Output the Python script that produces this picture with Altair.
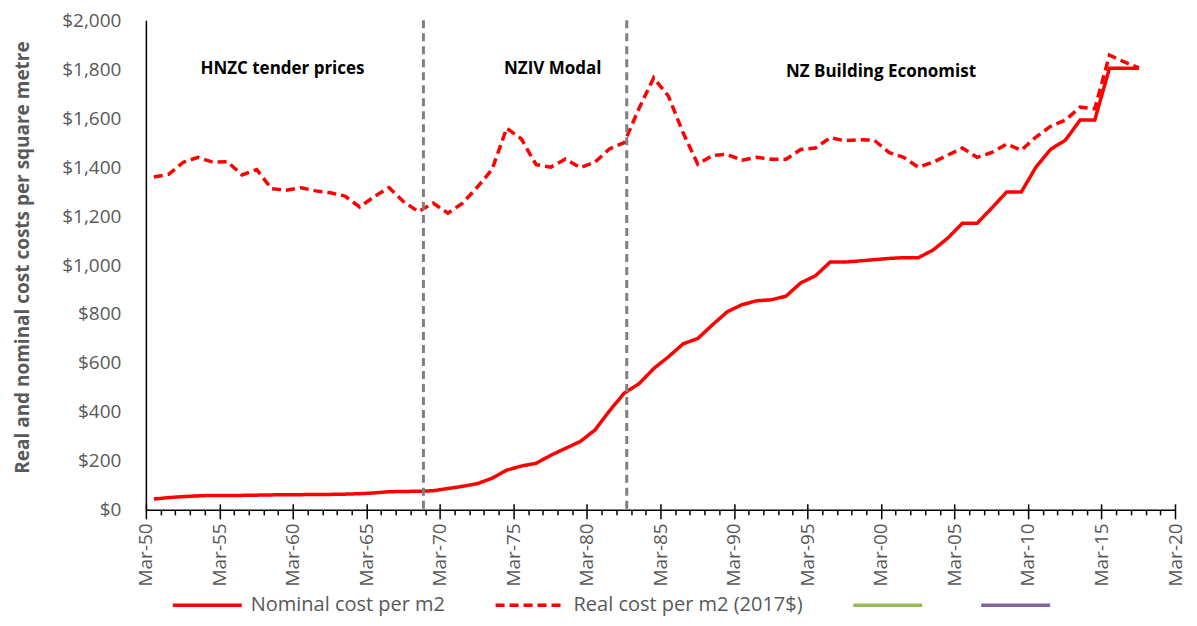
import altair as alt
import pandas as pd

# ---------------- data ----------------
years = list(range(1950, 2018))
nominal = [44, 50, 54, 57, 59, 59, 59, 60, 61, 62,
           62, 63, 63, 64, 66, 69, 74, 75, 76, 78,
           87, 96, 107, 129, 162, 179, 190, 223, 251, 279,
           326, 405, 477, 515, 577, 625, 678, 700, 756, 809,
           838, 854, 858, 873, 927, 956, 1012, 1012, 1017, 1022,
           1027, 1030, 1030, 1061, 1110, 1171, 1171, 1233, 1298, 1298,
           1400, 1473, 1510, 1592, 1592, 1804, 1804, 1804]
real = [1360, 1370, 1420, 1440, 1420, 1422, 1368, 1390, 1312, 1306,
        1316, 1303, 1295, 1282, 1237, 1280, 1316, 1258, 1218, 1253,
        1212, 1253, 1318, 1390, 1559, 1515, 1410, 1400, 1433, 1398,
        1420, 1475, 1500, 1640, 1765, 1690, 1540, 1412, 1448, 1452,
        1428, 1440, 1432, 1432, 1472, 1478, 1520, 1508, 1512, 1510,
        1460, 1440, 1400, 1420, 1449, 1478, 1440, 1460, 1494, 1469,
        1523, 1567, 1592, 1645, 1638, 1857, 1830, 1805]

series_names = ["Nominal cost per m2", "Real cost per m2 (2017$)", "series3", "series4"]
series_colors = ["#FF0000", "#FF0000", "#9BBB59", "#8064A2"]
series_dashes = [[1, 0], [9, 5], [1, 0], [1, 0]]

divider_dates = ["1969/01/15", "1982/11/15"]
section_labels = ["HNZC tender prices", "NZIV Modal", "NZ Building Economist"]
section_dates = ["1959/06/15", "1977/11/01", "2000/03/01"]
section_values = [1800, 1800, 1790]

y_ticks = list(range(0, 2001, 200))
x_tick_years = list(range(1950, 2021))

# ---------------- tables ----------------
rows = []
for y, n, r in zip(years, nominal, real):
    d = f"{y}/09/15"
    rows.append({"date": d, "value": n, "series": series_names[0]})
    rows.append({"date": d, "value": r, "series": series_names[1]})
df = pd.DataFrame(rows)
df_div = pd.DataFrame({"date": divider_dates})
df_txt = pd.DataFrame({"date": section_dates, "value": section_values, "label": section_labels})

FONT = "Open Sans"
GREY = "#595959"

x_scale = alt.Scale(domain=[alt.DateTime(year=1950, month=3, date=1),
                            alt.DateTime(year=2020, month=3, date=1)])
y_scale = alt.Scale(domain=[0, 2000])
tick_vals = [alt.DateTime(year=y, month=3, date=1) for y in x_tick_years]
major_vals = [alt.DateTime(year=y, month=3, date=1) for y in x_tick_years if y % 5 == 0]

legend = alt.Legend(
    title=None, orient="none", legendX=48, legendY=572, direction="horizontal",
    columns=4, gridAlign="none", columnPadding=43, symbolType="M-3,0H3",
    symbolSize=529, symbolStrokeWidth=3.5, symbolFillColor="transparent",
    labelFont=FONT, labelFontSize=20,
    labelColor=GREY, labelOffset=30, labelLimit=400,
    labelExpr="indexof(['series3','series4'], datum.label) >= 0 ? '' : datum.label",
)

lines = alt.Chart(df).mark_line(strokeWidth=3.5).encode(
    x=alt.X("date:T", scale=x_scale, title=None,
            axis=alt.Axis(values=tick_vals, grid=False,
                          labelExpr="year(datum.value) % 5 == 0 ? timeFormat(datum.value, '%b-%y') : ''",
                          labelAngle=270, labelFont=FONT, labelFontSize=19, labelColor=GREY,
                          labelPadding=4, labelOverlap=False, labelFlush=False,
                          tickSize={"condition": {"test": "year(datum.value) % 5 == 0", "value": 9}, "value": 5},
                          tickColor="black", tickWidth=1.5, domainColor="black", domainWidth=1.5)),
    y=alt.Y("value:Q", scale=y_scale,
            axis=alt.Axis(values=y_ticks, format="$,.0f", grid=False, ticks=False,
                          labelFont=FONT, labelFontSize=19, labelColor=GREY, labelPadding=25,
                          domainColor="black", domainWidth=1.5,
                          title="Real and nominal cost costs per square metre",
                          titleFont=FONT, titleFontSize=19, titleFontWeight="bold",
                          titleColor=GREY, titlePadding=29, titleY=237)),
    color=alt.Color("series:N", scale=alt.Scale(domain=series_names, range=series_colors), legend=legend),
    strokeDash=alt.StrokeDash("series:N", scale=alt.Scale(domain=series_names, range=series_dashes), legend=legend),
)

rules = alt.Chart(df_div).mark_rule(color="#808080", strokeWidth=3, strokeDash=[8, 5]).encode(
    x=alt.X("date:T", scale=x_scale,
            axis=alt.Axis(orient="top", offset=-490, values=major_vals, labels=False, domain=False,
                          grid=False, tickSize=6, tickColor="black", tickWidth=1.5, title=None)),
)

texts = alt.Chart(df_txt).mark_text(font=FONT, fontSize=17, fontWeight="bold", color="black").encode(
    x=alt.X("date:T", scale=x_scale, axis=None),
    y=alt.Y("value:Q", scale=y_scale),
    text="label:N",
)

chart = alt.layer(lines, rules, texts).resolve_axis(x="independent").properties(
    width=1030, height=490,
    padding={"top": 3, "left": 5, "right": 4, "bottom": 0},
).configure_view(stroke=None)

chart.save("out.html", embed_options={"renderer": "svg", "actions": False})
